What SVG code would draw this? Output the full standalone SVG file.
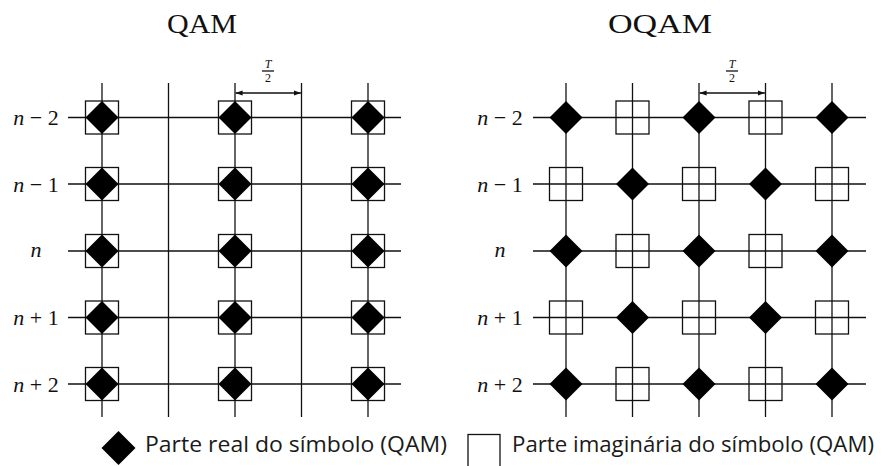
<svg xmlns="http://www.w3.org/2000/svg" width="889" height="466" viewBox="0 0 889 466">
<style>
.ln{stroke:#111;stroke-width:1.3;fill:none}
.dm{fill:#000;stroke:none}
.sq{fill:none;stroke:#111;stroke-width:1.3}
.ttl{font-family:"Liberation Serif","DejaVu Serif",serif;font-size:28px;fill:#111;text-anchor:middle}
.lbl{font-family:"Liberation Serif","DejaVu Serif",serif;font-size:22px;fill:#111;text-anchor:middle}
.fr{font-family:"Liberation Serif","DejaVu Serif",serif;font-size:12px;fill:#111;text-anchor:middle}
.leg{font-family:"Open Sans","Liberation Sans",sans-serif;font-size:21px;fill:#1a1a1a}
</style>
<defs>
<polygon id="D" class="dm" points="0,-16.5 16.5,0 0,16.5 -16.5,0"/>
<rect id="S" class="sq" x="-16.5" y="-16.5" width="33" height="33"/>
<marker id="ah" viewBox="0 0 10 10" refX="10" refY="5" markerWidth="7" markerHeight="7" orient="auto-start-reverse" markerUnits="userSpaceOnUse">
<path d="M0,1.5 L10,5 L0,8.5 z" fill="#111"/>
</marker>
</defs>

<!-- titles -->
<text class="ttl" x="202" y="33" textLength="70" lengthAdjust="spacingAndGlyphs">QAM</text>
<text class="ttl" x="660" y="33" textLength="104" lengthAdjust="spacingAndGlyphs">OQAM</text>

<!-- row labels -->
<g id="labels">
<text class="lbl" x="36" y="125"><tspan font-style="italic">n</tspan> − 2</text>
<text class="lbl" x="36" y="191.5"><tspan font-style="italic">n</tspan> − 1</text>
<text class="lbl" x="36" y="256.5" font-style="italic">n</text>
<text class="lbl" x="36" y="325"><tspan font-style="italic">n</tspan> + 1</text>
<text class="lbl" x="36" y="391.5"><tspan font-style="italic">n</tspan> + 2</text>
<text class="lbl" x="500" y="125"><tspan font-style="italic">n</tspan> − 2</text>
<text class="lbl" x="500" y="191.5"><tspan font-style="italic">n</tspan> − 1</text>
<text class="lbl" x="500" y="256.5" font-style="italic">n</text>
<text class="lbl" x="500" y="325"><tspan font-style="italic">n</tspan> + 1</text>
<text class="lbl" x="500" y="391.5"><tspan font-style="italic">n</tspan> + 2</text>
</g>

<g id="connectors">
<!-- QAM grid -->
<line class="ln" x1="102" y1="83" x2="102" y2="417"/>
<line class="ln" x1="168.5" y1="83" x2="168.5" y2="417"/>
<line class="ln" x1="235" y1="83" x2="235" y2="417"/>
<line class="ln" x1="301.5" y1="83" x2="301.5" y2="417"/>
<line class="ln" x1="368" y1="83" x2="368" y2="417"/>
<line class="ln" x1="68" y1="117.5" x2="401" y2="117.5"/>
<line class="ln" x1="68" y1="184" x2="401" y2="184"/>
<line class="ln" x1="68" y1="251" x2="401" y2="251"/>
<line class="ln" x1="68" y1="317.5" x2="401" y2="317.5"/>
<line class="ln" x1="68" y1="384" x2="401" y2="384"/>
<!-- OQAM grid -->
<line class="ln" x1="566" y1="83" x2="566" y2="417"/>
<line class="ln" x1="632.5" y1="83" x2="632.5" y2="417"/>
<line class="ln" x1="699" y1="83" x2="699" y2="417"/>
<line class="ln" x1="765.5" y1="83" x2="765.5" y2="417"/>
<line class="ln" x1="832" y1="83" x2="832" y2="417"/>
<line class="ln" x1="533" y1="117.5" x2="866" y2="117.5"/>
<line class="ln" x1="533" y1="184" x2="866" y2="184"/>
<line class="ln" x1="533" y1="251" x2="866" y2="251"/>
<line class="ln" x1="533" y1="317.5" x2="866" y2="317.5"/>
<line class="ln" x1="533" y1="384" x2="866" y2="384"/>
<!-- T/2 dimension arrows -->
<line class="ln" x1="235.6" y1="93" x2="300.9" y2="93" marker-start="url(#ah)" marker-end="url(#ah)"/>
<line class="ln" x1="699.6" y1="93" x2="764.9" y2="93" marker-start="url(#ah)" marker-end="url(#ah)"/>
</g>

<!-- T/2 labels -->
<g id="t2-qam">
<text class="fr" x="268" y="68" font-style="italic">T</text>
<line class="ln" x1="262" y1="71" x2="274" y2="71" stroke-width="0.9"/>
<text class="fr" x="268" y="82">2</text>
</g>
<g id="t2-oqam">
<text class="fr" x="732" y="68" font-style="italic">T</text>
<line class="ln" x1="726" y1="71" x2="738" y2="71" stroke-width="0.9"/>
<text class="fr" x="732" y="82">2</text>
</g>

<!-- QAM symbols -->
<g id="qam-r1c1"><use href="#D" x="102" y="117.5"/><use href="#S" x="102" y="117.5"/></g>
<g id="qam-r1c3"><use href="#D" x="235" y="117.5"/><use href="#S" x="235" y="117.5"/></g>
<g id="qam-r1c5"><use href="#D" x="368" y="117.5"/><use href="#S" x="368" y="117.5"/></g>
<g id="qam-r2c1"><use href="#D" x="102" y="184"/><use href="#S" x="102" y="184"/></g>
<g id="qam-r2c3"><use href="#D" x="235" y="184"/><use href="#S" x="235" y="184"/></g>
<g id="qam-r2c5"><use href="#D" x="368" y="184"/><use href="#S" x="368" y="184"/></g>
<g id="qam-r3c1"><use href="#D" x="102" y="251"/><use href="#S" x="102" y="251"/></g>
<g id="qam-r3c3"><use href="#D" x="235" y="251"/><use href="#S" x="235" y="251"/></g>
<g id="qam-r3c5"><use href="#D" x="368" y="251"/><use href="#S" x="368" y="251"/></g>
<g id="qam-r4c1"><use href="#D" x="102" y="317.5"/><use href="#S" x="102" y="317.5"/></g>
<g id="qam-r4c3"><use href="#D" x="235" y="317.5"/><use href="#S" x="235" y="317.5"/></g>
<g id="qam-r4c5"><use href="#D" x="368" y="317.5"/><use href="#S" x="368" y="317.5"/></g>
<g id="qam-r5c1"><use href="#D" x="102" y="384"/><use href="#S" x="102" y="384"/></g>
<g id="qam-r5c3"><use href="#D" x="235" y="384"/><use href="#S" x="235" y="384"/></g>
<g id="qam-r5c5"><use href="#D" x="368" y="384"/><use href="#S" x="368" y="384"/></g>

<!-- OQAM symbols -->
<g id="oqam-r1c1"><use href="#D" x="566" y="117.5"/></g>
<g id="oqam-r1c2"><use href="#S" x="632.5" y="117.5"/></g>
<g id="oqam-r1c3"><use href="#D" x="699" y="117.5"/></g>
<g id="oqam-r1c4"><use href="#S" x="765.5" y="117.5"/></g>
<g id="oqam-r1c5"><use href="#D" x="832" y="117.5"/></g>
<g id="oqam-r2c1"><use href="#S" x="566" y="184"/></g>
<g id="oqam-r2c2"><use href="#D" x="632.5" y="184"/></g>
<g id="oqam-r2c3"><use href="#S" x="699" y="184"/></g>
<g id="oqam-r2c4"><use href="#D" x="765.5" y="184"/></g>
<g id="oqam-r2c5"><use href="#S" x="832" y="184"/></g>
<g id="oqam-r3c1"><use href="#D" x="566" y="251"/></g>
<g id="oqam-r3c2"><use href="#S" x="632.5" y="251"/></g>
<g id="oqam-r3c3"><use href="#D" x="699" y="251"/></g>
<g id="oqam-r3c4"><use href="#S" x="765.5" y="251"/></g>
<g id="oqam-r3c5"><use href="#D" x="832" y="251"/></g>
<g id="oqam-r4c1"><use href="#S" x="566" y="317.5"/></g>
<g id="oqam-r4c2"><use href="#D" x="632.5" y="317.5"/></g>
<g id="oqam-r4c3"><use href="#S" x="699" y="317.5"/></g>
<g id="oqam-r4c4"><use href="#D" x="765.5" y="317.5"/></g>
<g id="oqam-r4c5"><use href="#S" x="832" y="317.5"/></g>
<g id="oqam-r5c1"><use href="#D" x="566" y="384"/></g>
<g id="oqam-r5c2"><use href="#S" x="632.5" y="384"/></g>
<g id="oqam-r5c3"><use href="#D" x="699" y="384"/></g>
<g id="oqam-r5c4"><use href="#S" x="765.5" y="384"/></g>
<g id="oqam-r5c5"><use href="#D" x="832" y="384"/></g>

<!-- legend -->
<g id="legend-real">
<polygon class="dm" points="118.5,431 135.5,448 118.5,465 101.5,448"/>
<text class="leg" x="145" y="451.5" textLength="302" lengthAdjust="spacingAndGlyphs">Parte real do símbolo (QAM)</text>
</g>
<g id="legend-imag">
<rect class="sq" x="468" y="434.5" width="32" height="33"/>
<text class="leg" x="512" y="451.5" textLength="362" lengthAdjust="spacingAndGlyphs">Parte imaginária do símbolo (QAM)</text>
</g>
</svg>
